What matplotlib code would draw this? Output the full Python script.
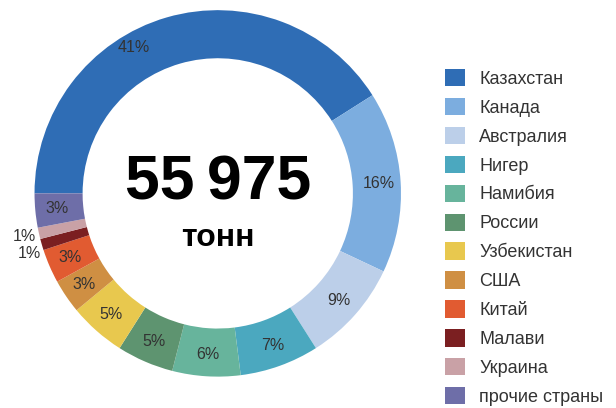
import numpy as np
import matplotlib
matplotlib.use("Agg")
import matplotlib.pyplot as plt

plt.rcParams['font.family'] = ['Liberation Sans', 'DejaVu Sans']

# доли добычи урана по странам, %
countries = ['Казахстан', 'Канада', 'Австралия', 'Нигер', 'Намибия', 'России',
             'Узбекистан', 'США', 'Китай', 'Малави', 'Украина', 'прочие страны']
shares = [41, 16, 9, 7, 6, 5, 5, 3, 3, 1, 1, 3]
colors = ['#2f6db5', '#7caddf', '#bccfe9', '#4ba8bf', '#67b49c', '#5e9470',
          '#e8c84e', '#cf8f43', '#e15b31', '#7b1f21', '#c9a1a6', '#6e6ea8']
total = '55\u2009975'
unit = 'тонн'

fig = plt.figure(figsize=(6.16, 4.08), dpi=100)
ax = fig.add_axes([0.059, 0.081, 0.589, 0.890])

wedges, _ = ax.pie(shares, colors=colors, startangle=180, counterclock=False,
                   radius=1.01, wedgeprops=dict(width=0.265, linewidth=0))

# подписи процентов
for i, (w, s) in enumerate(zip(wedges, shares)):
    deg = (w.theta1 + w.theta2) / 2
    r = 0.89
    if i == 0:
        deg, r = 120, 0.93
    if s == 1:
        r = 1.09
        if countries[i] == 'Малави':
            deg += 1.5
    ang = np.deg2rad(deg)
    ax.text(r * np.cos(ang), r * np.sin(ang), f'{s}%', ha='center', va='center',
            fontsize=11.5, color='#333333')

ax.text(0, 0.06, total, ha='center', va='center', fontsize=45,
        fontweight='bold', color='black')
ax.text(0, -0.245, unit, ha='center', va='center', fontsize=23,
        fontweight='bold', color='black')
ax.set_xlim(-1, 1)
ax.set_ylim(-1, 1)
ax.set_aspect('equal')
ax.axis('off')

fig.legend(wedges, countries, loc='upper left',
           bbox_to_anchor=(445 / 616, 1 - 69 / 408), frameon=False,
           fontsize=13, handlelength=1.1, handleheight=1.1,
           handletextpad=0.8, labelspacing=0.56, borderpad=0,
           borderaxespad=0, labelcolor='#333333')

fig.savefig('out.png', dpi=100)
